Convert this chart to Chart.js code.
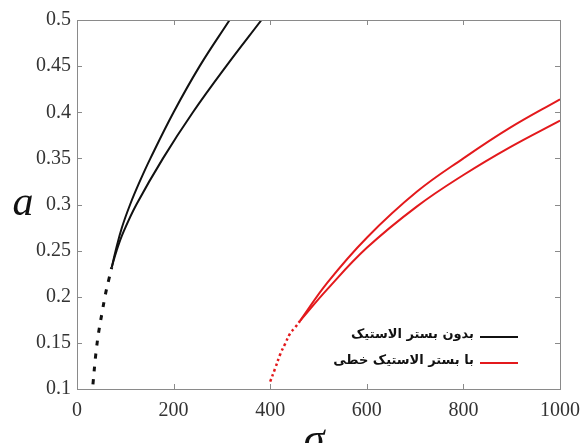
<!DOCTYPE html>
<html>
<head>
<meta charset="utf-8">
<script src="https://cdn.jsdelivr.net/npm/chart.js@4"></script>
<style>
  html, body { margin: 0; padding: 0; background: #fff; }
  #wrap { width: 582px; height: 443px; }
</style>
</head>
<body>
<div id="wrap"><canvas id="c" width="582" height="443"></canvas></div>
<script>
// Frequency response: amplitude a versus detuning sigma
const xTickLabels = ['0', '200', '400', '600', '800', '1000'];
const yTickLabels = ['0.1', '0.15', '0.2', '0.25', '0.3', '0.35', '0.4', '0.45', '0.5'];
const legendLabels = ['بدون بستر الاستیک', 'با بستر الاستیک خطی'];
const xTitle = 'σ';
const yTitle = 'a';

// Without elastic foundation: unstable (dashed) part and two stable branches
const freeUnstableX = [33, 39, 45, 52, 59, 66, 72];
const freeUnstableY = [0.105, 0.138, 0.162, 0.183, 0.203, 0.219, 0.232];
const freeUpperX = [72, 80, 93, 110, 130, 152, 200, 254, 316];
const freeUpperY = [0.232, 0.25, 0.275, 0.30, 0.325, 0.35, 0.40, 0.45, 0.50];
const freeLowerX = [72, 82, 96, 123, 178, 240, 309, 382];
const freeLowerY = [0.232, 0.25, 0.27, 0.30, 0.35, 0.40, 0.45, 0.50];

// With linear elastic foundation
const elasticUnstableX = [400, 410, 421, 431, 441, 452, 462];
const elasticUnstableY = [0.108, 0.122, 0.138, 0.149, 0.160, 0.167, 0.174];
const elasticUpperX = [462, 518, 600, 704, 800, 896, 1000];
const elasticUpperY = [0.174, 0.215, 0.264, 0.314, 0.350, 0.383, 0.414];
const elasticLowerX = [462, 518, 600, 704, 800, 896, 1000];
const elasticLowerY = [0.174, 0.208, 0.253, 0.298, 0.332, 0.362, 0.391];

const BLACK = '#111111';
const RED = '#e3191c';

function pts(xs, ys) { return xs.map((x, i) => ({ x: x, y: ys[i] })); }

function line(xs, ys, color, width, dash) {
  return {
    data: pts(xs, ys),
    borderColor: color,
    borderWidth: width,
    borderDash: dash || [],
    borderCapStyle: 'butt',
    pointRadius: 0,
    fill: false,
    tension: 0.4
  };
}

const datasets = [
  line(freeUnstableX, freeUnstableY, BLACK, 3, [5, 8]),
  line(freeUpperX, freeUpperY, BLACK, 2),
  line(freeLowerX, freeLowerY, BLACK, 2),
  line(elasticUnstableX, elasticUnstableY, RED, 2.5, [2.5, 3]),
  line(elasticUpperX, elasticUpperY, RED, 2),
  line(elasticLowerX, elasticLowerY, RED, 2)
];

const legendColors = [BLACK, RED];

// Box frame, inward ticks on all four sides, axis titles and legend
const decorations = {
  id: 'decorations',
  afterDraw(chart) {
    const ctx = chart.ctx;
    const a = chart.chartArea;
    const xs = chart.scales.x, ys = chart.scales.y;
    ctx.save();
    ctx.strokeStyle = '#8a8a8a';
    ctx.lineWidth = 1;
    ctx.strokeRect(a.left + 0.5, a.top + 0.5, a.right - a.left, a.bottom - a.top);
    const tl = 5;
    ctx.beginPath();
    xs.ticks.forEach(t => {
      const px = Math.round(xs.getPixelForValue(t.value)) + 0.5;
      ctx.moveTo(px, a.bottom); ctx.lineTo(px, a.bottom - tl);
      ctx.moveTo(px, a.top); ctx.lineTo(px, a.top + tl);
    });
    ys.ticks.forEach(t => {
      const py = Math.round(ys.getPixelForValue(t.value)) + 0.5;
      ctx.moveTo(a.left, py); ctx.lineTo(a.left + tl, py);
      ctx.moveTo(a.right, py); ctx.lineTo(a.right - tl, py);
    });
    ctx.stroke();

    // axis titles
    ctx.fillStyle = '#111';
    ctx.font = 'italic 42px "Liberation Serif", serif';
    ctx.textAlign = 'center';
    ctx.textBaseline = 'alphabetic';
    ctx.fillText(yTitle, 23, 215);
    ctx.fillText(xTitle, 314, 452);

    // legend: sample line on the right, Persian text to its left
    ctx.font = 'bold 13px "DejaVu Sans", sans-serif';
    ctx.textAlign = 'right';
    ctx.textBaseline = 'middle';
    const rowsY = [337, 363];
    legendLabels.forEach((lab, i) => {
      ctx.strokeStyle = legendColors[i];
      ctx.lineWidth = 2;
      ctx.beginPath();
      ctx.moveTo(480, rowsY[i]); ctx.lineTo(518, rowsY[i]);
      ctx.stroke();
      ctx.fillStyle = '#111';
      ctx.fillText(lab, 474, rowsY[i] - 2);
    });
    ctx.restore();
  }
};

new Chart(document.getElementById('c'), {
  type: 'line',
  data: { datasets: datasets },
  options: {
    responsive: false,
    animation: false,
    layout: { padding: { top: 20, right: 22, left: 0, bottom: 0 } },
    plugins: { legend: { display: false }, tooltip: { enabled: false } },
    scales: {
      x: {
        type: 'linear', min: 0, max: 1000,
        ticks: {
          stepSize: 200, padding: 10, color: '#333', maxRotation: 0,
          font: { family: '"Liberation Serif", serif', size: 20 },
          callback: (v, i) => xTickLabels[i]
        },
        grid: { display: false, drawTicks: false },
        border: { display: false },
        afterFit(s) { s.height = 54; s.paddingLeft = 0; s.paddingRight = 0; }
      },
      y: {
        type: 'linear', min: 0.1, max: 0.5,
        ticks: {
          stepSize: 0.05, padding: 6, color: '#333',
          font: { family: '"Liberation Serif", serif', size: 20 },
          callback: (v, i) => yTickLabels[i]
        },
        grid: { display: false, drawTicks: false },
        border: { display: false },
        afterFit(s) { s.width = 77; s.paddingTop = 0; s.paddingBottom = 0; }
      }
    }
  },
  plugins: [decorations]
});
</script>
</body>
</html>
